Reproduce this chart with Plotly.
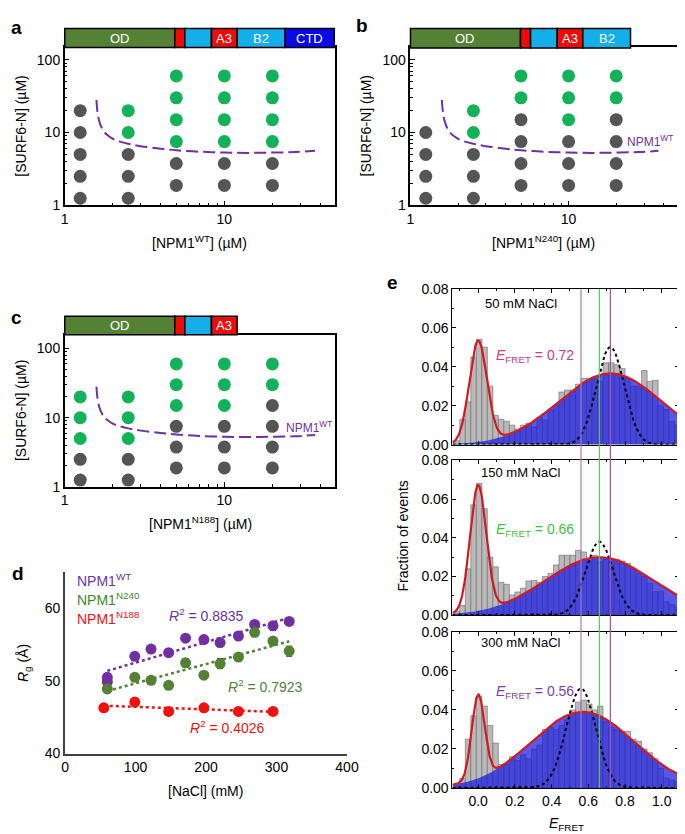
import numpy as np
import plotly.graph_objects as go

W, H = 685, 834
FONT = "Liberation Sans, Arial, Helvetica, sans-serif"

def px(x):
    return x / W

def py(y):
    return 1 - y / H

# ---------------- data: panels a-c (phase diagrams) ----------------
npm1_a = [1.25]*5 + [2.5]*5 + [5]*6 + [10]*6 + [20]*6
surf6_a = [1.25, 2.5, 5, 10, 20]*2 + [1.875, 3.75, 7.5, 15, 30, 60]*3
drop_a = [0, 0, 0, 0, 0,  0, 0, 0, 1, 1,  0, 0, 1, 1, 1, 1,  0, 0, 1, 1, 1, 1,  0, 0, 1, 1, 1, 1]

npm1_b = [1.25]*4 + [2.5]*5 + [5]*6 + [10]*6 + [20]*6
surf6_b = [1.25, 2.5, 5, 10] + [1.25, 2.5, 5, 10, 20] + [1.875, 3.75, 7.5, 15, 30, 60]*3
drop_b = [0, 0, 0, 0,  0, 0, 0, 1, 1,  0, 0, 0, 0, 1, 1,  0, 0, 0, 1, 1, 1,  0, 0, 0, 0, 1, 1]

npm1_c = [1.25]*5 + [2.5]*5 + [5]*6 + [10]*6 + [20]*6
surf6_c = [1.25, 2.5, 5, 10, 20]*2 + [1.875, 3.75, 7.5, 15, 30, 60]*3
drop_c = [0, 0, 1, 1, 1,  0, 0, 1, 1, 1,  0, 0, 0, 1, 1, 1,  0, 0, 0, 1, 1, 1,  0, 0, 0, 0, 1, 1]

# WT phase boundary (dashed)
bound_x = [1.58, 1.6, 1.65, 1.75, 1.9, 2.1, 2.5, 3, 4, 5, 7, 10, 14, 20, 28, 37]
bound_y = [28, 20, 14, 10.5, 8.8, 7.8, 7.0, 6.5, 6.0, 5.7, 5.45, 5.3, 5.25, 5.3, 5.4, 5.6]

# domain architecture (residue boundaries)
domain_res = [0, 120, 131, 160, 188, 240, 294]
domain_lbl = ["OD", "", "", "A3", "B2", "CTD"]
domain_col = ["#548235", "#f00a0a", "#14aee8", "#f00a0a", "#14aee8", "#0a0ae6"]

# ---------------- data: panel d ----------------
wt_nacl = [60, 60, 99, 122, 147, 171, 197, 220, 246, 269, 295, 318]
wt_rg = [50.5, 49.9, 53.4, 54.4, 53.9, 55.9, 55.7, 55.3, 56.2, 57.8, 57.6, 58.2]
wt_err = [0.3, 0.3, 0.3, 0.3, 0.3, 0.3, 0.5, 0.6, 0.3, 0.3, 0.6, 0.3]
n240_nacl = [60, 99, 122, 147, 171, 197, 220, 246, 269, 295, 318]
n240_rg = [48.9, 50.5, 50.1, 49.4, 52.5, 50.8, 52.4, 53.3, 56.7, 55.5, 54.1]
n240_err = [0.3, 0.3, 0.3, 0.3, 0.6, 0.3, 0.7, 0.5, 0.6, 0.3, 0.7]
n188_nacl = [55, 99, 147, 197, 246, 295]
n188_rg = [46.3, 47.1, 45.8, 46.3, 45.8, 45.8]
r2_text = ["0.8835", "0.7923", "0.4026"]

# ---------------- data: panel e (FRET histograms) ----------------
bin_width = 0.03
bin_centers = np.round(np.arange(-0.115, 1.1, bin_width), 3)
hist_50 = [0.002, 0.013, 0.022, 0.045, 0.054, 0.050, 0.030, 0.015, 0.013, 0.012,
           0.010, 0.008, 0.010, 0.011, 0.009, 0.014, 0.0125, 0.0175, 0.020, 0.027,
           0.028, 0.028, 0.031, 0.034, 0.034, 0.034, 0.0325, 0.042, 0.042, 0.041,
           0.039, 0.034, 0.030, 0.030, 0.038, 0.0325, 0.033, 0.020, 0.018, 0.012, 0.010]
hist_150 = [0.002, 0.005, 0.024, 0.057, 0.068, 0.055, 0.030, 0.025, 0.017, 0.016,
            0.0105, 0.012, 0.014, 0.0177, 0.018, 0.017, 0.020, 0.0216, 0.026, 0.031,
            0.031, 0.031, 0.0335, 0.0327, 0.028, 0.031, 0.0275, 0.029, 0.029, 0.029,
            0.028, 0.0267, 0.024, 0.0216, 0.020, 0.0165, 0.0122, 0.0125, 0.007, 0.0055, 0.004]
hist_300 = [0.001, 0.005, 0.025, 0.037, 0.047, 0.042, 0.032, 0.023, 0.012, 0.012,
            0.016, 0.014, 0.017, 0.015, 0.020, 0.022, 0.030, 0.031, 0.030, 0.032,
            0.035, 0.040, 0.044, 0.045, 0.043, 0.040, 0.042, 0.034, 0.031, 0.030,
            0.029, 0.029, 0.025, 0.024, 0.020, 0.018, 0.015, 0.010, 0.005, 0.004, 0.003]
# fitted Gaussian parameters: (amplitude, centre, sigma)
fit_low = [(0.052, 0.0, 0.048), (0.065, 0.0, 0.044), (0.043, 0.0, 0.035)]
fit_high = [(0.0365, 0.72, 0.28), (0.030, 0.66, 0.29), (0.039, 0.57, 0.28)]
fit_ref = [(0.050, 0.72, 0.075), (0.038, 0.66, 0.075), (0.051, 0.56, 0.08)]
salt_labels = ["50 mM NaCl", "150 mM NaCl", "300 mM NaCl"]
efret_values = [0.72, 0.66, 0.56]
efret_colors = ["#c8398a", "#3fbf3f", "#7b3fa8"]
vline_vals = [0.56, 0.66, 0.72]
vline_cols = ["#a37cc8", "#5cc35c", "#a8509e"]

GREY = "#555555"
GREEN = "#12b25a"
PURPLE = "#7030a0"

fig = go.Figure()

# ---------- panels a-c ----------
panels = [("x", "y", npm1_a, surf6_a, drop_a),
          ("x2", "y2", npm1_b, surf6_b, drop_b),
          ("x3", "y3", npm1_c, surf6_c, drop_c)]
for xa, ya, xs, ys, dr in panels:
    fig.add_trace(go.Scatter(x=bound_x, y=bound_y, mode="lines", line_shape="spline",
                             line=dict(color=PURPLE, width=2, dash="12px,5px"),
                             xaxis=xa, yaxis=ya, hoverinfo="skip"))
    fig.add_trace(go.Scatter(x=xs, y=ys, mode="markers",
                             marker=dict(size=13, color=[GREEN if d else GREY for d in dr]),
                             xaxis=xa, yaxis=ya))

# ---------- panel d ----------
series_d = [(wt_nacl, wt_rg, wt_err, PURPLE), (n240_nacl, n240_rg, n240_err, "#548235"),
            (n188_nacl, n188_rg, None, "#f21010")]
for xs, ys, er, col in series_d:
    xs_a = np.array(xs, float)
    ys_a = np.array(ys, float)
    k, b0 = np.polyfit(xs_a, ys_a, 1)
    xl = np.array([xs_a.min(), xs_a.max()])
    fig.add_trace(go.Scatter(x=xl, y=k * xl + b0, mode="lines",
                             line=dict(color=col, width=2.5, dash="dot"),
                             xaxis="x4", yaxis="y4"))
    fig.add_trace(go.Scatter(x=xs, y=ys, mode="markers",
                             marker=dict(size=11, color=col),
                             error_y=dict(type="data", array=er, visible=er is not None,
                                          color="#333333", thickness=1, width=3),
                             xaxis="x4", yaxis="y4"))

# ---------- panel e ----------
def gauss(x, p):
    a, m, s = p
    return a * np.exp(-(x - m) ** 2 / (2 * s ** 2))

xg = np.linspace(-0.14, 1.094, 400)
hists = [hist_50, hist_150, hist_300]
for i in range(3):
    xa, ya = "x%d" % (5 + i), "y%d" % (5 + i)
    fig.add_trace(go.Bar(x=bin_centers, y=hists[i], width=bin_width,
                         marker=dict(color="#b9b9b9", line=dict(color="#6a6a6a", width=0.6)),
                         xaxis=xa, yaxis=ya))
    g_hi = gauss(xg, fit_high[i])
    g_lo = gauss(xg, fit_low[i])
    fig.add_trace(go.Scatter(x=xg, y=g_hi, mode="lines", fill="tozeroy",
                             fillcolor="rgba(25,25,225,0.72)", line=dict(width=0, color="rgba(0,0,0,0)"),
                             xaxis=xa, yaxis=ya))
    fig.add_trace(go.Scatter(x=xg, y=gauss(xg, fit_ref[i]), mode="lines",
                             line=dict(color="black", width=2, dash="dot"),
                             xaxis=xa, yaxis=ya))
    fig.add_trace(go.Scatter(x=xg, y=g_lo + g_hi, mode="lines",
                             line=dict(color="#d01a24", width=2.2),
                             xaxis=xa, yaxis=ya))

# ---------- axes ----------
minor_log = [2, 3, 4, 5, 6, 7, 8, 9, 20, 30, 40, 50, 60, 70, 80, 90]

def log_axis(dom, rng, anchor):
    return dict(type="log", domain=dom, range=rng, anchor=anchor,
                showline=True, linecolor="black", linewidth=1.5, mirror=True,
                ticks="inside", ticklen=5, tickwidth=1, tickcolor="black",
                tickmode="array", tickvals=[1, 10, 100], ticktext=["1", "10", "100"],
                minor=dict(tickmode="array", tickvals=minor_log, ticks="inside",
                           ticklen=3, tickcolor="black", showgrid=False),
                showgrid=False, zeroline=False, tickfont=dict(size=14, color="black"))

lay = {}
lay["xaxis"] = log_axis([px(54), px(331)], [0, 1.695], "y")
lay["yaxis"] = log_axis([py(193), py(32)], [0, 2.17], "x")
lay["xaxis2"] = log_axis([px(408), px(681)], [0, 1.686], "y2")
lay["yaxis2"] = log_axis([py(193), py(32)], [0, 2.17], "x2")
lay["xaxis3"] = log_axis([px(54), px(331)], [0, 1.695], "y3")
lay["yaxis3"] = log_axis([py(480), py(325)], [0, 2.2], "x3")

lay["xaxis4"] = dict(domain=[px(54.3), px(343)], range=[0, 400], anchor="y4",
                     showline=True, linecolor="#404040", linewidth=2, ticks="",
                     tickvals=[0, 100, 200, 300, 400], showgrid=False, zeroline=False,
                     tickfont=dict(size=14, color="black"))
lay["yaxis4"] = dict(domain=[py(752), py(567)], range=[40, 65], anchor="x4",
                     showline=True, linecolor="#404040", linewidth=2, ticks="",
                     tickvals=[40, 50, 60], showgrid=False, zeroline=False,
                     tickfont=dict(size=14, color="black"))

e_dom = [(437, 278), (611, 453), (787, 628)]
for i in range(3):
    n = 5 + i
    lay["xaxis%d" % n] = dict(domain=[px(451), px(683)], range=[-0.14, 1.094], anchor="y%d" % n,
                              showline=True, linecolor="black", linewidth=1, mirror="ticks",
                              ticks="inside", ticklen=4, tickcolor="black", tick0=0, dtick=0.2,
                              tickformat=".1f", showticklabels=(i == 2),
                              minor=dict(ticks="inside", ticklen=2, dtick=0.1, tick0=0,
                                         tickcolor="black", showgrid=False),
                              showgrid=False, zeroline=False, tickfont=dict(size=14, color="black"))
    lay["yaxis%d" % n] = dict(domain=[py(e_dom[i][0]), py(e_dom[i][1])], range=[0, 0.08],
                              anchor="x%d" % n, showline=True, linecolor="black", linewidth=1,
                              mirror="ticks", ticks="inside", ticklen=4, tickcolor="black",
                              tick0=0, dtick=0.02, tickformat=".2f",
                              minor=dict(ticks="inside", ticklen=2, dtick=0.01, tick0=0,
                                         tickcolor="black", showgrid=False),
                              showgrid=False, zeroline=False, tickfont=dict(size=14, color="black"))

# ---------- shapes ----------
shapes = []
res_px = 276 / 294
bars = [(54, (12.7, 32), 294), (408, (12.7, 32.5), 240), (54, (306, 325), 188)]
for left, (top, bot), end in bars:
    for j in range(len(domain_res) - 1):
        if domain_res[j + 1] > end:
            break
        x0 = left + domain_res[j] * res_px
        x1 = left + domain_res[j + 1] * res_px
        shapes.append(dict(type="rect", xref="paper", yref="paper",
                           x0=px(x0), x1=px(x1), y0=py(bot), y1=py(top),
                           fillcolor=domain_col[j], line=dict(color="black", width=1.5)))

for v, c in zip(vline_vals, vline_cols):
    shapes.append(dict(type="line", xref="x5", yref="paper", x0=v, x1=v,
                       y0=py(787), y1=py(278), line=dict(color=c, width=1.2), layer="above"))
shapes.append(dict(type="line", xref="x7 domain", yref="y7 domain", x0=1, x1=1, y0=0, y1=1,
                   line=dict(color="#2f8a2f", width=1.2)))

# ---------- annotations ----------
ann = []

def txt(x, y, s, size=14, color="black", angle=0, xanchor="center", bold=False):
    if bold:
        s = "<b>%s</b>" % s
    ann.append(dict(x=px(x), y=py(y), xref="paper", yref="paper", text=s, showarrow=False,
                    font=dict(size=size, color=color, family=FONT), textangle=angle,
                    xanchor=xanchor, yanchor="middle"))

# domain labels
for left, (top, bot), end in bars:
    for j in range(len(domain_res) - 1):
        if domain_res[j + 1] > end:
            break
        if domain_lbl[j]:
            xc = left + (domain_res[j] + domain_res[j + 1]) / 2 * res_px
            txt(xc, (top + bot) / 2 + 0.5, domain_lbl[j], size=13, color="white")

# panel letters
txt(5, 12, "a", size=19, bold=True)
txt(358, 10, "b", size=19, bold=True)
txt(5, 307, "c", size=19, bold=True)
txt(6, 568, "d", size=19, bold=True)
txt(390, 272, "e", size=19, bold=True)

# panels a-c axis titles
txt(192, 230, "[NPM1<sup>WT</sup>] (µM)", size=14)
txt(544, 230, "[NPM1<sup>N240</sup>] (µM)", size=14)
txt(193, 517, "[NPM1<sup>N188</sup>] (µM)", size=14)
txt(9, 112, "[SURF6-N] (µM)", size=14, angle=-90)
txt(362, 112, "[SURF6-N] (µM)", size=14, angle=-90)
txt(9, 402, "[SURF6-N] (µM)", size=14, angle=-90)
txt(628, 127, "NPM1<sup>WT</sup>", size=12, color=PURPLE, xanchor="left")
txt(278, 419, "NPM1<sup>WT</sup>", size=12, color=PURPLE, xanchor="left")

# panel d
txt(65, 575, "NPM1<sup>WT</sup>", size=14, color=PURPLE, xanchor="left")
txt(65, 594, "NPM1<sup>N240</sup>", size=14, color="#3c8c1e", xanchor="left")
txt(65, 614, "NPM1<sup>N188</sup>", size=14, color="#f21010", xanchor="left")
txt(199, 611, "<i>R</i><sup>2</sup> = " + r2_text[0], size=14, color=PURPLE)
txt(260, 683, "<i>R</i><sup>2</sup> = " + r2_text[1], size=14, color="#548235")
txt(221, 725, "<i>R</i><sup>2</sup> = " + r2_text[2], size=14, color="#f21010")
txt(198, 790, "[NaCl] (mM)", size=14)
txt(13, 660, "<i>R</i><sub>g</sub> (Å)", size=14, angle=-90)

# panel e
for i, (yt, ye) in enumerate([(293, 347), (465, 524), (639, 689)]):
    txt(521, yt, salt_labels[i], size=13)
    txt(535, ye, "<i>E</i><sub>FRET</sub> = %.2f" % efret_values[i], size=14, color=efret_colors[i])
txt(400, 530, "Fraction of events", size=14, angle=-90)
txt(568, 824, "<i>E</i><sub>FRET</sub>", size=14)

lay.update(dict(width=W, height=H, margin=dict(l=0, r=0, t=0, b=0),
                paper_bgcolor="white", plot_bgcolor="white", showlegend=False,
                barmode="overlay", font=dict(family=FONT, size=14, color="black"),
                shapes=shapes, annotations=ann))
fig.update_layout(**lay)
fig.write_html("out.html")
